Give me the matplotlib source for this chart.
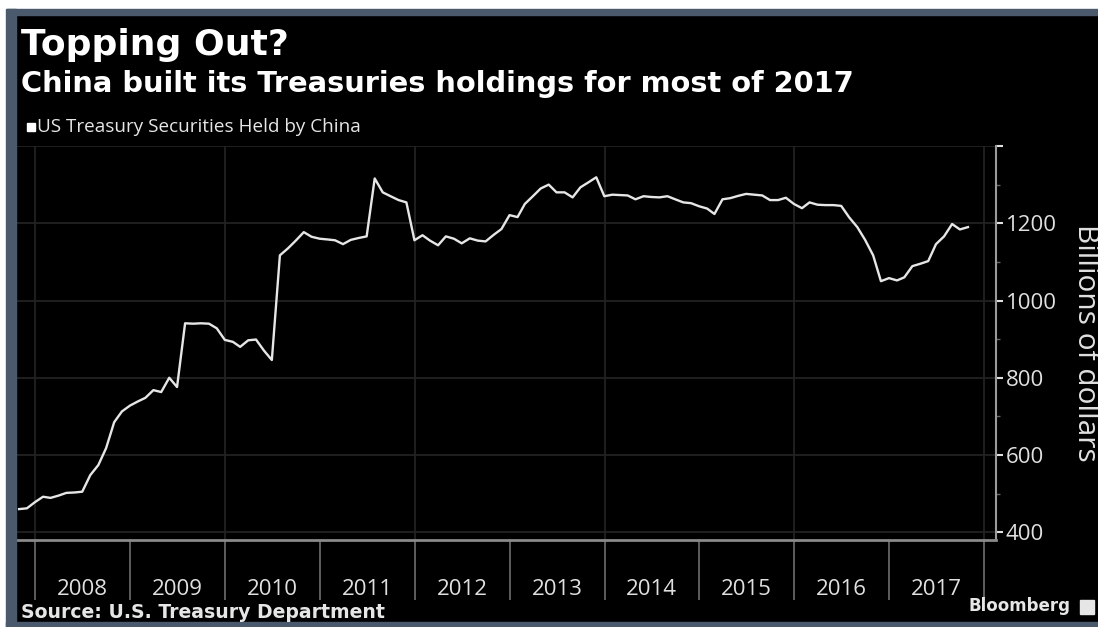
import matplotlib
matplotlib.use("Agg")
import matplotlib.pyplot as plt
from matplotlib.patches import Rectangle
import pandas as pd

# US Treasury securities held by China, billions of dollars, monthly Oct 2007 - Oct 2017
start_month = "2007-10-31"
holdings = [
    460, 462, 478,
    492, 489, 495, 502, 503, 505, 548, 574, 618, 685, 713, 728,
    739, 748, 768, 763, 800, 776, 941, 940, 941, 940, 928, 898,
    893, 880, 897, 899, 870, 846, 1117, 1135, 1155, 1177, 1165, 1160,
    1158, 1156, 1146, 1157, 1162, 1166, 1316, 1280, 1270, 1260, 1254, 1156,
    1169, 1155, 1143, 1166, 1160, 1148, 1161, 1155, 1153, 1170, 1185, 1221,
    1216, 1250, 1270, 1290, 1300, 1280, 1280, 1267, 1293, 1306, 1319, 1270,
    1274, 1273, 1272, 1262, 1270, 1268, 1267, 1270, 1262, 1254, 1252, 1244,
    1238, 1224, 1262, 1265, 1271, 1276, 1274, 1272, 1260, 1260, 1266, 1250,
    1239, 1254, 1248, 1247, 1247, 1245, 1215, 1190, 1157, 1117, 1050, 1058,
    1052, 1060, 1089, 1095, 1102, 1146, 1166, 1198, 1184, 1190,
]
years = list(range(2008, 2018))
y_ticks = [400, 600, 800, 1000, 1200, 1400]
y_tick_labels = ["400", "600", "800", "1000", "1200", ""]

TITLE = "Topping Out?"
SUBTITLE = "China built its Treasuries holdings for most of 2017"
SERIES = "US Treasury Securities Held by China"
SOURCE = "Source: U.S. Treasury Department"

W, H = 1098, 627


def px(x, y):
    return x / W, 1 - y / H


def draw_chart():
    dates = pd.date_range(start_month, periods=len(holdings), freq="ME")

    fig = plt.figure(figsize=(W / 100, H / 100), dpi=100, facecolor="black")

    # frame around the picture
    slate = "#4a596c"
    fig.patches.append(Rectangle((0, 1 - 9 / H), 1, 9 / H, transform=fig.transFigure, color="white", zorder=0))
    fig.patches.append(Rectangle((0, 1 - 15 / H), 1, 6 / H, transform=fig.transFigure, color=slate, zorder=0))
    fig.patches.append(Rectangle((0, 0), 6 / W, 1, transform=fig.transFigure, color="white", zorder=0))
    fig.patches.append(Rectangle((6 / W, 0), 10 / W, 1 - 9 / H, transform=fig.transFigure, color=slate, zorder=0))
    fig.patches.append(Rectangle((6 / W, 0), 1, 5 / H, transform=fig.transFigure, color=slate, zorder=0))

    left, top = px(16, 146)
    right, bottom = px(996, 540)
    ax = fig.add_axes([left, bottom, right - left, top - bottom], facecolor="black")

    ax.plot(dates, holdings, color="#e6e6e6", lw=1.7, zorder=3)

    ax.set_xlim(pd.Timestamp("2007-10-19"), pd.Timestamp("2018-02-16"))
    ax.set_ylim(380, 1400)

    # grid: horizontal every 200, vertical every other year
    for v in y_ticks:
        ax.axhline(v, color="#222222", lw=1.3, zorder=1)
    for yr in range(2008, 2019, 2):
        ax.axvline(pd.Timestamp(f"{yr}-01-01"), color="#222222", lw=1.3, zorder=1)

    for s in ["top", "left"]:
        ax.spines[s].set_visible(False)
    ax.spines["bottom"].set_color("#8a8a8a")
    ax.spines["bottom"].set_linewidth(2)
    ax.spines["right"].set_color("#9a9a9a")
    ax.spines["right"].set_linewidth(1.5)

    # x axis: year separators and centred year labels
    ax.set_xticks([pd.Timestamp(f"{yr}-01-01") for yr in range(2008, 2019)])
    ax.set_xticklabels([])
    ax.set_xticks([pd.Timestamp(f"{yr}-07-02") for yr in years], minor=True)
    ax.set_xticklabels([str(yr) for yr in years], minor=True)
    ax.tick_params(axis="x", which="major", length=43, width=1.2, color="#6e6e6e", direction="out")
    ax.tick_params(axis="x", which="minor", length=0, pad=28, labelsize=16, labelcolor="#e0e0e0")

    # y axis on the right
    ax.yaxis.tick_right()
    ax.set_yticks(y_ticks)
    ax.set_yticklabels(y_tick_labels)
    ax.set_yticks([500, 700, 900, 1100, 1300], minor=True)
    ax.tick_params(axis="y", which="major", length=5, width=1.5, color="#e0e0e0", pad=2,
                   labelsize=16, labelcolor="#e0e0e0", direction="out")
    ax.tick_params(axis="y", which="minor", length=3, width=1, color="#666666", direction="out")
    for lab in ax.get_xticklabels(minor=True) + ax.get_yticklabels():
        lab.set_family("Open Sans")

    fig.text(*px(1085, 343), "Billions of dollars", rotation=270, ha="center", va="center",
             fontsize=21.5, color="#e0e0e0", family="Open Sans")

    # titles
    fig.text(*px(21, 55), TITLE, fontsize=26, fontweight="bold", color="white",
             family="DejaVu Sans", va="baseline")
    fig.text(*px(21, 92), SUBTITLE, fontsize=20.8, fontweight="bold", color="white",
             family="DejaVu Sans", va="baseline")

    # series key
    fig.patches.append(Rectangle(px(27, 131), 8 / W, 8 / H, transform=fig.transFigure, color="white"))
    fig.text(*px(37, 127), SERIES, fontsize=13.6, color="#e6e6e6", family="Open Sans", va="center")

    # footer
    fig.text(*px(21, 612), SOURCE, fontsize=13.6, fontweight="bold", color="#e6e6e6",
             family="DejaVu Sans", va="center")
    fig.text(*px(1071, 606), "Bloomberg", fontsize=12, fontweight="bold", color="#e6e6e6",
             family="DejaVu Sans", va="center", ha="right")
    fig.patches.append(Rectangle(px(1080, 614), 14 / W, 14 / H, transform=fig.transFigure, color="#e6e6e6"))

    fig.savefig("out.png", dpi=100, facecolor="black")


def main():
    draw_chart()


if __name__ == "__main__":
    main()
